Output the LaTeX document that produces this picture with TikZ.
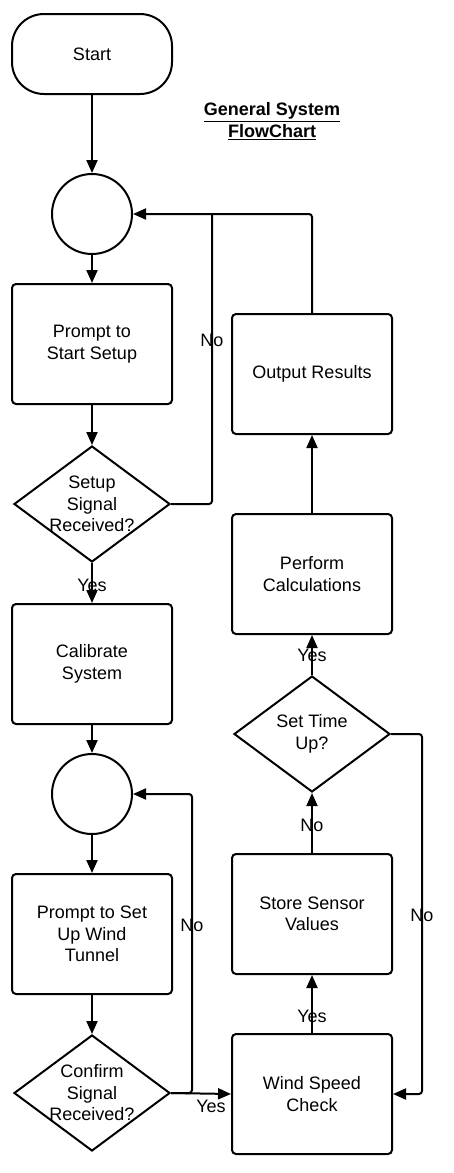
\documentclass[tikz,border=0pt]{standalone}
\usepackage{fontspec}
\setmainfont{Liberation Sans}
\usetikzlibrary{shapes.geometric,arrows.meta}
\begin{document}
\begin{tikzpicture}[x=1pt,y=-1pt,
  every node/.style={font=\fontsize{18}{21.5}\selectfont},
  stroke/.style={line width=2pt},
  proc/.style={stroke,draw,rectangle,rounded corners=4pt,minimum width=160pt,minimum height=120pt,align=center,inner sep=0pt},
  term/.style={stroke,draw,rectangle,rounded corners=32pt,minimum width=160pt,minimum height=80pt,inner sep=0pt},
  junc/.style={stroke,draw,circle,minimum size=80pt,inner sep=0pt},
  decide/.style={stroke,draw,diamond,minimum width=156pt,minimum height=116pt,inner sep=0pt},
  dlabel/.style={align=center,inner sep=0pt},
  conn/.style={stroke,rounded corners=3pt,-{Triangle[length=13pt,width=11pt]}},
  plain/.style={stroke,rounded corners=3pt},
  edgelabel/.style={inner sep=0pt}]
\useasboundingbox (0,0) rectangle (453,1173);

\node[term] (start) at (92,54) {Start};
\node[font=\fontsize{18}{21.5}\selectfont\bfseries,align=center] (title) at (272,121) {\underline{General System}\\\underline{FlowChart}};

\node[junc] (c1) at (92,214) {};
\node[proc] (p1) at (92,344) {Prompt to\\Start Setup};
\node[decide,label={[dlabel]center:Setup\\Signal\\Received?}] (d1) at (92,504) {};
\node[proc] (cal) at (92,664) {Calibrate\\System};
\node[junc] (c2) at (92,794) {};
\node[proc] (p2) at (92,934) {Prompt to Set\\Up Wind\\Tunnel};
\node[decide,label={[dlabel]center:Confirm\\Signal\\Received?}] (d2) at (92,1093) {};

\node[proc] (wind) at (312,1094) {Wind Speed\\Check};
\node[proc] (store) at (312,914) {Store Sensor\\Values};
\node[decide,label={[dlabel]center:Set Time\\Up?}] (d3) at (312,734) {};
\node[proc] (perf) at (312,574) {Perform\\Calculations};
\node[proc] (out) at (312,374) {Output Results};

\coordinate (j1) at (212,214);

\draw[conn] (start) -- (c1);
\draw[conn] (c1) -- (p1);
\draw[conn] (p1) -- (d1);
\draw[conn] (d1) -- (cal);
\draw[conn] (cal) -- (c2);
\draw[conn] (c2) -- (p2);
\draw[conn] (p2) -- (d2);
\draw[conn] (d2.east) -- (wind.west);
\draw[conn] (wind) -- (store);
\draw[conn] (store) -- (d3);
\draw[conn] (d3) -- (perf);
\draw[conn] (perf) -- (out);
\draw[conn] (out.north) |- (c1.east);
\draw[plain] (d1.east) -| (j1);
\draw[conn] (d2.east) -- (192,1093) |- (c2.east);
\draw[conn] (d3.east) -- (422,734) |- (wind.east);

\node[edgelabel] (l1) at (212,340) {No};
\node[edgelabel] (l2) at (92,585) {Yes};
\node[edgelabel] (l3) at (192,925) {No};
\node[edgelabel] (l4) at (211,1106) {Yes};
\node[edgelabel] (l5) at (312,1016) {Yes};
\node[edgelabel] (l6) at (312,825) {No};
\node[edgelabel] (l7) at (312,655) {Yes};
\node[edgelabel] (l8) at (422,915) {No};
\end{tikzpicture}
\end{document}
